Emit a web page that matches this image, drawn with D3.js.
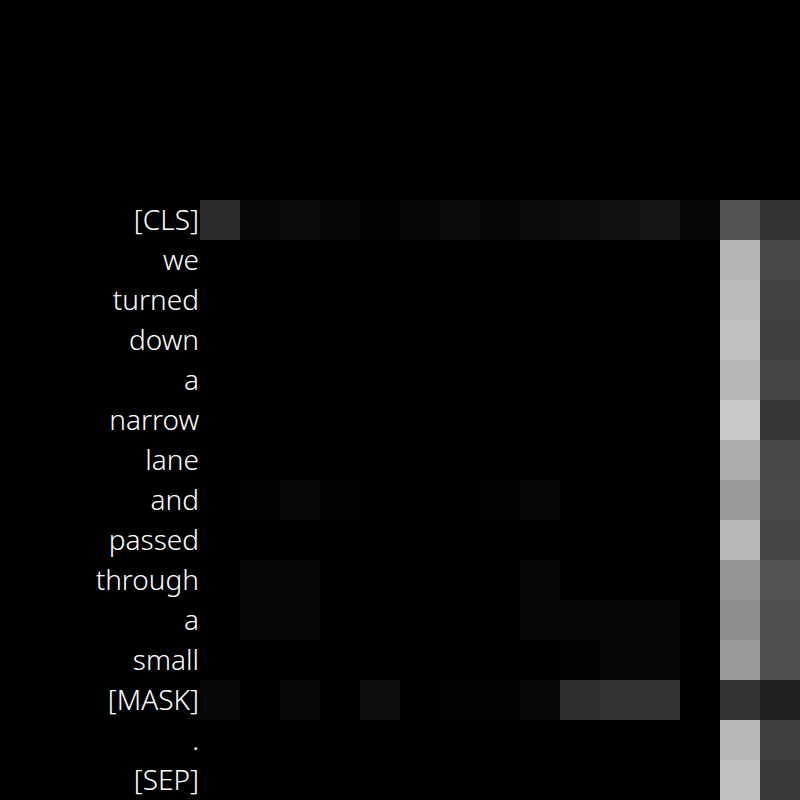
<!DOCTYPE html>
<html>
<head>
<meta charset="utf-8">
<script src="https://cdn.jsdelivr.net/npm/d3@7"></script>
<style>
  html, body { margin: 0; padding: 0; background: #000; }
  svg { display: block; }
</style>
</head>
<body>
<svg id="chart" width="800" height="800"></svg>
<script>
const tokens = ["[CLS]", "we", "turned", "down", "a", "narrow", "lane", "and", "passed", "through", "a", "small", "[MASK]", ".", "[SEP]"];

const row0  = [0.165, 0.030, 0.035, 0.015, 0.012, 0.016, 0.035, 0.015, 0.040, 0.047, 0.065, 0.087, 0.020, 0.320, 0.195];
const row1  = [0, 0, 0, 0, 0, 0, 0, 0, 0, 0, 0, 0, 0, 0.700, 0.275];
const row2  = [0, 0, 0, 0, 0, 0, 0, 0, 0, 0, 0, 0, 0, 0.733, 0.263];
const row3  = [0, 0, 0, 0, 0, 0, 0, 0, 0, 0, 0, 0, 0, 0.750, 0.250];
const row4  = [0, 0, 0, 0, 0, 0, 0, 0, 0, 0, 0, 0, 0, 0.718, 0.270];
const row5  = [0, 0, 0, 0, 0, 0, 0, 0, 0, 0, 0, 0, 0, 0.784, 0.212];
const row6  = [0, 0, 0, 0, 0, 0, 0, 0, 0, 0, 0, 0, 0, 0.682, 0.282];
const row7  = [0, 0.010, 0.024, 0.010, 0, 0, 0, 0.008, 0.020, 0, 0, 0, 0, 0.604, 0.290];
const row8  = [0, 0, 0, 0, 0, 0, 0, 0, 0, 0, 0, 0, 0, 0.730, 0.267];
const row9  = [0, 0.020, 0.020, 0, 0, 0, 0, 0, 0.016, 0, 0, 0, 0, 0.584, 0.322];
const row10 = [0, 0.020, 0.020, 0, 0, 0, 0, 0, 0.018, 0.016, 0.016, 0.014, 0, 0.557, 0.306];
const row11 = [0, 0, 0, 0, 0, 0, 0, 0, 0.005, 0.012, 0.016, 0.014, 0, 0.604, 0.306];
const row12 = [0.030, 0.004, 0.027, 0.004, 0.045, 0.003, 0.012, 0.012, 0.030, 0.180, 0.196, 0.196, 0.004, 0.192, 0.118];
const row13 = [0, 0, 0, 0, 0, 0, 0, 0, 0, 0, 0, 0, 0, 0.722, 0.250];
const row14 = [0, 0, 0, 0, 0, 0, 0, 0, 0, 0, 0, 0, 0, 0.757, 0.220];

const attention = [row0, row1, row2, row3, row4, row5, row6, row7, row8, row9, row10, row11, row12, row13, row14];

const svg = d3.select("#chart");
const W = 800, H = 800;
const marginLeft = 200, marginTop = 200;

const idx = d3.range(tokens.length);
const x = d3.scaleBand().domain(idx).range([marginLeft, W]);
const y = d3.scaleBand().domain(idx).range([marginTop, H]);
const color = d3.scaleLinear().domain([0, 1]).range(["#000000", "#ffffff"]).clamp(true);

svg.append("rect").attr("width", W).attr("height", H).attr("fill", "#000");

const cells = [];
attention.forEach((r, i) => r.forEach((v, j) => cells.push({ i, j, v })));

svg.append("g")
  .selectAll("rect")
  .data(cells)
  .join("rect")
  .attr("x", d => x(d.j))
  .attr("y", d => y(d.i))
  .attr("width", x.bandwidth())
  .attr("height", y.bandwidth())
  .attr("fill", d => color(d.v))
  .attr("shape-rendering", "crispEdges");

svg.append("g")
  .selectAll("text")
  .data(tokens)
  .join("text")
  .attr("x", marginLeft - 1)
  .attr("y", (d, i) => y(i) + y.bandwidth() / 2 - 1)
  .attr("text-anchor", "end")
  .attr("dominant-baseline", "central")
  .attr("fill", "#ffffff")
  .attr("font-family", "'Noto Sans', sans-serif")
  .attr("font-weight", 300)
  .attr("font-size", 28)
  .text(d => d);
</script>
</body>
</html>
